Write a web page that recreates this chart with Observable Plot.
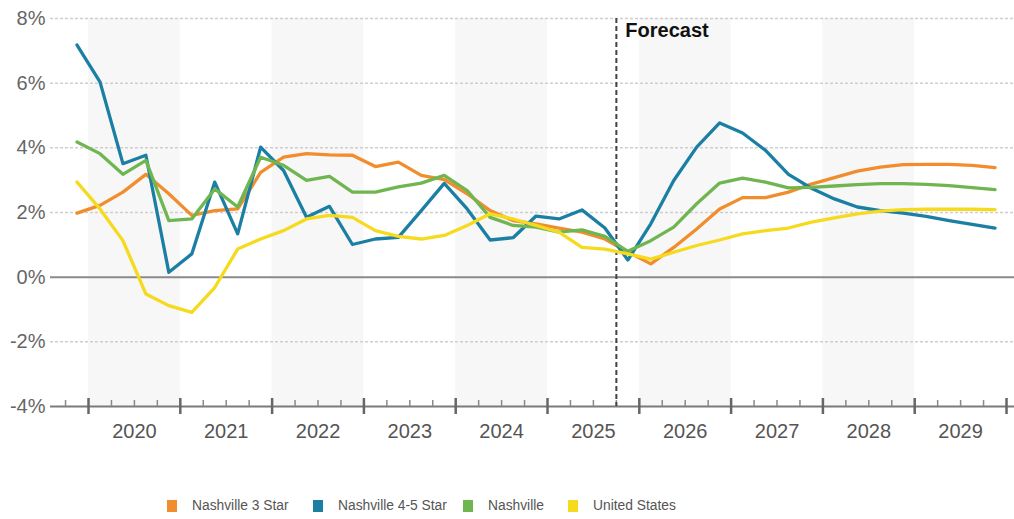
<!DOCTYPE html>
<html>
<head>
<meta charset="utf-8">
<script src="https://cdn.jsdelivr.net/npm/d3@7"></script>
<script src="https://cdn.jsdelivr.net/npm/@observablehq/plot@0.6"></script>
<style>
  html, body { margin: 0; padding: 0; background: #fff; }
  body { width: 1014px; height: 519px; overflow: hidden; font-family: "Liberation Sans", Arial, sans-serif; }
  #legend { position: relative; height: 59px; }
  .item { position: absolute; top: 38px; display: flex; align-items: center; font-size: 13.8px; color: #555; white-space: nowrap; }
  .swatch { width: 10px; height: 12px; margin-right: 15px; }
</style>
</head>
<body>
<div id="chart"></div>
<div id="legend"></div>
<script>
// Quarterly periods, 2019 Q4 through 2029 Q4
const quarters = [
  "2019Q4",
  "2020Q1","2020Q2","2020Q3","2020Q4",
  "2021Q1","2021Q2","2021Q3","2021Q4",
  "2022Q1","2022Q2","2022Q3","2022Q4",
  "2023Q1","2023Q2","2023Q3","2023Q4",
  "2024Q1","2024Q2","2024Q3","2024Q4",
  "2025Q1","2025Q2","2025Q3","2025Q4",
  "2026Q1","2026Q2","2026Q3","2026Q4",
  "2027Q1","2027Q2","2027Q3","2027Q4",
  "2028Q1","2028Q2","2028Q3","2028Q4",
  "2029Q1","2029Q2","2029Q3","2029Q4"
];

const seriesNames = ["Nashville 3 Star", "Nashville 4-5 Star", "Nashville", "United States"];
const seriesColors = ["#f18d2c", "#1b7fa4", "#70b650", "#f5da1e"];

// Year-over-year rent growth, percent
const nashville3Star = [
  1.98, 2.22, 2.63, 3.18, 2.58, 1.91, 2.06, 2.11, 3.24, 3.71,
  3.82, 3.78, 3.77, 3.42, 3.56, 3.15, 3.02, 2.58, 2.06, 1.75,
  1.65, 1.52, 1.39, 1.18, 0.78, 0.41, 0.92, 1.49, 2.11, 2.46,
  2.46, 2.63, 2.88, 3.08, 3.28, 3.40, 3.48, 3.49, 3.49, 3.46,
  3.39
];
const nashville45Star = [
  7.18, 6.04, 3.51, 3.77, 0.15, 0.72, 2.94, 1.34, 4.02, 3.30,
  1.85, 2.19, 1.01, 1.18, 1.23, 2.06, 2.90, 2.11, 1.15, 1.22,
  1.89, 1.80, 2.08, 1.52, 0.53, 1.65, 2.99, 4.02, 4.77, 4.46,
  3.92, 3.18, 2.75, 2.42, 2.17, 2.06, 1.98, 1.88, 1.75, 1.63,
  1.52
];
const nashville = [
  4.18, 3.82, 3.18, 3.61, 1.75, 1.80, 2.73, 2.17, 3.71, 3.46,
  2.99, 3.12, 2.63, 2.63, 2.79, 2.91, 3.15, 2.68, 1.85, 1.60,
  1.55, 1.39, 1.46, 1.26, 0.80, 1.13, 1.55, 2.27, 2.91, 3.06,
  2.94, 2.76, 2.78, 2.82, 2.86, 2.89, 2.89, 2.87, 2.83, 2.77,
  2.71
];
const unitedStates = [
  2.94, 2.11, 1.13, -0.52, -0.88, -1.09, -0.32, 0.87, 1.18, 1.44,
  1.80, 1.91, 1.85, 1.44, 1.26, 1.18, 1.29, 1.60, 1.96, 1.80,
  1.60, 1.39, 0.92, 0.87, 0.72, 0.56, 0.77, 0.98, 1.15, 1.34,
  1.44, 1.52, 1.70, 1.83, 1.96, 2.04, 2.09, 2.10, 2.10, 2.10,
  2.09
];

const years = [2020, 2021, 2022, 2023, 2024, 2025, 2026, 2027, 2028, 2029];
const shadedYears = [2020, 2022, 2024, 2026, 2028];
const yTicks = [-4, -2, 0, 2, 4, 6, 8];
const gridValues = [-2, 2, 4, 6, 8];
const forecastStart = "2025Q4";

// "2021Q3" -> middle of that quarter in fractional years
const quarterStart = (q) => +q.slice(0, 4) + (+q.slice(5) - 1) / 4;
const quarterMid = (q) => quarterStart(q) + 0.125;

const valuesBySeries = [nashville3Star, nashville45Star, nashville, unitedStates];
const rows = seriesNames.flatMap((name, s) =>
  quarters.map((q, i) => ({series: name, t: quarterMid(q), value: valuesBySeries[s][i]}))
);

const yearBounds = [...years, years[years.length - 1] + 1];
const quarterTicks = [2019, ...years].flatMap((y) => [y + 0.25, y + 0.5, y + 0.75]);

const chart = Plot.plot({
  width: 1014,
  height: 460,
  marginLeft: 50,
  marginRight: 0,
  marginTop: 18,
  marginBottom: 54,
  style: {fontFamily: "'Liberation Sans', Arial, sans-serif", background: "#fff"},
  x: {domain: [2019.586, 2030.087], axis: null},
  y: {domain: [-4, 8], axis: null},
  color: {domain: seriesNames, range: seriesColors},
  marks: [
    // alternating year bands
    Plot.rect(shadedYears, {x1: (d) => d, x2: (d) => d + 1, fill: "#f7f7f7"}),
    // dashed gridlines and the zero baseline
    Plot.ruleY(gridValues, {stroke: "#cfcfcf", strokeWidth: 1.5, strokeDasharray: "3,2"}),
    Plot.ruleY([0], {stroke: "#8a8a8a", strokeWidth: 2}),
    // bottom axis line with year and quarter ticks
    Plot.ruleY([-4], {stroke: "#7a7a7a", strokeWidth: 2}),
    Plot.ruleX(quarterTicks.filter((d) => d > 2019.586), {
      x: (d) => d, y1: -4, y2: -4, insetTop: -6, insetBottom: 0,
      stroke: "#8a8a8a", strokeWidth: 1.5
    }),
    Plot.ruleX(yearBounds, {
      x: (d) => d, y1: -4, y2: -4, insetTop: -8, insetBottom: -8,
      stroke: "#666", strokeWidth: 2.5
    }),
    Plot.text(years, {
      x: (d) => d + 0.5, y: -4, dy: 25, text: (d) => String(d),
      fontSize: 20, fill: "#555", lineAnchor: "middle"
    }),
    Plot.axisY({
      ticks: yTicks, tickSize: 0, tickPadding: 5, tickFormat: (d) => `${d}%`,
      fontSize: 20, color: "#666", label: null
    }),
    // forecast divider
    Plot.ruleX([forecastStart], {
      x: quarterStart, stroke: "#444", strokeWidth: 2, strokeDasharray: "5,3"
    }),
    // series lines
    Plot.line(rows, {
      x: "t", y: "value", z: "series", stroke: "series",
      strokeWidth: 3.3, strokeLinejoin: "round", strokeLinecap: "round"
    }),
    Plot.text([forecastStart], {
      x: quarterStart, frameAnchor: "top", text: () => "Forecast",
      textAnchor: "start", lineAnchor: "middle", dx: 9, dy: 12,
      fontSize: 20, fontWeight: "bold", fill: "#111"
    })
  ]
});
document.getElementById("chart").append(chart);

// legend under the chart
const legendLeft = [167, 313, 463, 568];
const legend = document.getElementById("legend");
seriesNames.forEach((name, i) => {
  const item = document.createElement("div");
  item.className = "item";
  item.style.left = legendLeft[i] + "px";
  const sw = document.createElement("span");
  sw.className = "swatch";
  sw.style.background = seriesColors[i];
  const label = document.createElement("span");
  label.textContent = name;
  item.append(sw, label);
  legend.append(item);
});
</script>
</body>
</html>
